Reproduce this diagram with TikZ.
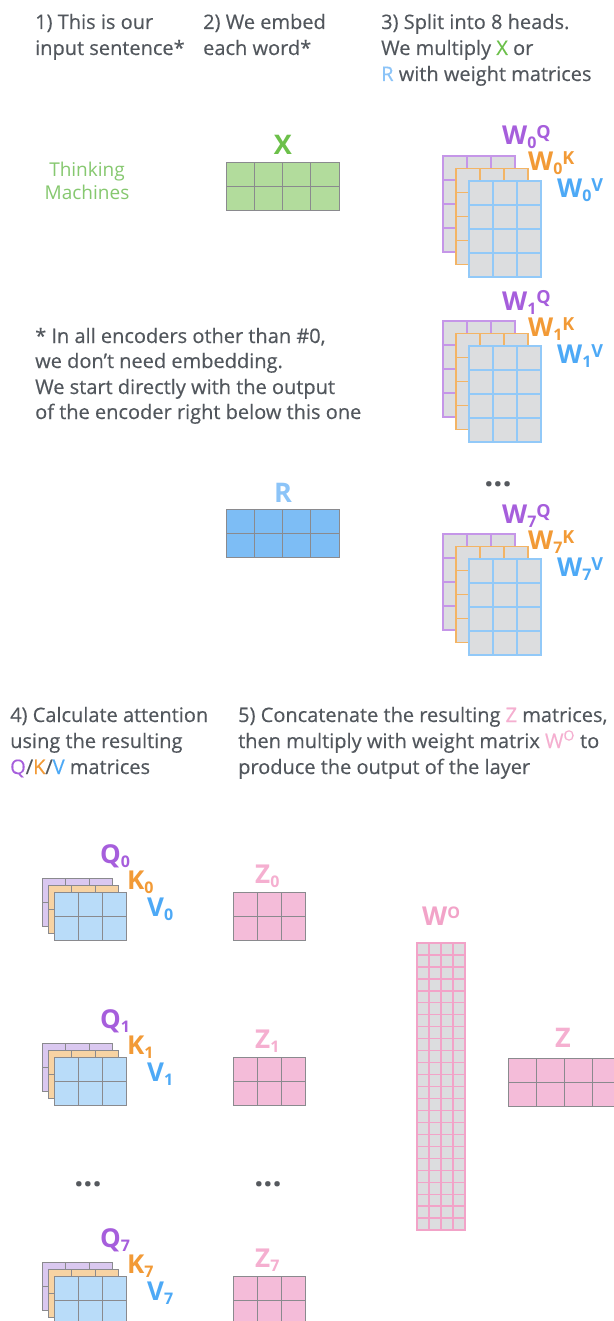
\documentclass[tikz,border=0pt]{standalone}
\usepackage{fontspec}
\setmainfont{Open Sans}
\newfontfamily\bodyfont{Open Sans}[FakeBold=0.35]
\definecolor{txtgray}{HTML}{52575D}
\definecolor{dotgray}{HTML}{55595E}
\definecolor{xgreen}{HTML}{6CC04A}
\definecolor{tmgreen}{HTML}{86C86F}
\definecolor{xfill}{HTML}{B2DC9C}
\definecolor{rblue}{HTML}{8CC4F8}
\definecolor{rfill}{HTML}{7DBDF5}
\definecolor{qpurple}{HTML}{A65EDC}
\definecolor{kor}{HTML}{F29A36}
\definecolor{vblue}{HTML}{4DA9F6}
\definecolor{pline}{HTML}{C596E8}
\definecolor{oline}{HTML}{F3B465}
\definecolor{bline}{HTML}{92C9F8}
\definecolor{wgray}{HTML}{DCDDDF}
\definecolor{pfill}{HTML}{DAC8F0}
\definecolor{ofill}{HTML}{F7D3A3}
\definecolor{bfill}{HTML}{B9DCF9}
\definecolor{zpink}{HTML}{F5AFD0}
\definecolor{zfill}{HTML}{F4BCD9}
\definecolor{wopink}{HTML}{F2A3C8}
\definecolor{gridgray}{HTML}{8A8A8E}
\newcommand{\cellgrid}[8]{%
  \fill[#7] (#1,#2) rectangle ++({#3*#5},{#4*#6});
  \foreach \ci in {0,...,#3}{\draw[#8] ({#1+\ci*#5},#2) -- ++(0,{#4*#6});}
  \foreach \ri in {0,...,#4}{\draw[#8] (#1,{#2+\ri*#6}) -- ++({#3*#5},0);}
}
\newcommand{\lbl}[3]{{\fontsize{26}{26}\selectfont #1}{\fontsize{16}{16}\selectfont\raisebox{-4pt}{#2}}{\fontsize{18}{18}\selectfont\raisebox{6pt}{#3}}}
\newcommand{\wstack}[1]{%
  \cellgrid{443}{#1}{3}{4}{24}{24}{wgray}{pline,line width=1.8pt}
  \cellgrid{456}{#1+12.5}{3}{4}{24}{24}{wgray}{oline,line width=1.8pt}
  \cellgrid{469}{#1+25}{3}{4}{24}{24}{wgray}{bline,line width=2pt}
}
\newcommand{\qkvstack}[1]{%
  \cellgrid{42}{#1-14}{3}{2}{23.5}{24}{pfill}{gridgray,line width=1pt}
  \cellgrid{48}{#1-7}{3}{2}{23.5}{24}{ofill}{gridgray,line width=1pt}
  \cellgrid{54}{#1}{3}{2}{24}{24}{bfill}{gridgray,line width=1pt}
  \cellgrid{233}{#1}{3}{2}{24}{24}{zfill}{gridgray,line width=1pt}
}
\begin{document}
\begin{tikzpicture}[x=1pt,y=-1pt,line cap=rect,
  txt/.style={anchor=base west,inner sep=0pt,text=txtgray,font=\bodyfont\fontsize{20}{26}\selectfont},
  lab/.style={anchor=base west,inner sep=0pt,font=\bfseries},
  big/.style={anchor=base,inner sep=0pt,font=\bfseries\fontsize{27}{27}\selectfont},
  dots/.style={anchor=base,inner sep=0pt,text=dotgray,font=\bfseries\fontsize{32}{32}\selectfont}]
\useasboundingbox[fill=white] (0,0) rectangle (613,1321);
% headers
\node[txt] (h1a) at (35,29) {1) This is our};
\node[txt] (h1b) at (35,55) {input sentence*};
\node[txt] (h2a) at (203,29) {2) We embed};
\node[txt] (h2b) at (203,55) {each word*};
\node[txt] (h3a) at (381,29) {3) Split into 8 heads.};
\node[txt] (h3b) at (381,55) {We multiply {\color{xgreen}X} or};
\node[txt] (h3c) at (381,81) {{\color{rblue}R} with weight matrices};
% input
\node[anchor=base,inner sep=0pt,text=tmgreen,font=\fontsize{19}{24}\selectfont] (tm1) at (87,177) {Thinking};
\node[anchor=base,inner sep=0pt,text=tmgreen,font=\fontsize{19}{24}\selectfont] (tm2) at (87,200) {Machines};
\node[big,text=xgreen] (xl) at (283,155) {X};
\cellgrid{226}{163}{4}{2}{28.25}{24}{xfill}{gridgray,line width=1pt}
% weight stacks
\wstack{156}
\node[lab,text=qpurple] (w0q) at (502,145) {\lbl{W}{0}{Q}};
\node[lab,text=kor] (w0k) at (528,171) {\lbl{W}{0}{K}};
\node[lab,text=vblue] (w0v) at (557,198) {\lbl{W}{0}{V}};
\wstack{321}
\node[lab,text=qpurple] (w1q) at (502,310) {\lbl{W}{1}{Q}};
\node[lab,text=kor] (w1k) at (528,336) {\lbl{W}{1}{K}};
\node[lab,text=vblue] (w1v) at (557,363) {\lbl{W}{1}{V}};
\node[dots] (wdots) at (498,486) {...};
\wstack{534}
\node[lab,text=qpurple] (w7q) at (502,523) {\lbl{W}{7}{Q}};
\node[lab,text=kor] (w7k) at (528,549) {\lbl{W}{7}{K}};
\node[lab,text=vblue] (w7v) at (557,576) {\lbl{W}{7}{V}};
% footnote
\node[txt] (f1) at (35,343) {* In all encoders other than \#0,};
\node[txt] (f2) at (35,368) {we don’t need embedding.};
\node[txt] (f3) at (35,394) {We start directly with the output};
\node[txt] (f4) at (35,419) {of the encoder right below this one};
% R
\node[big,text=rblue] (rl) at (283,502) {R};
\cellgrid{226}{509}{4}{2}{28.25}{24}{rfill}{gridgray,line width=1pt}
% section 4/5 headers
\node[txt] (h4a) at (10,722) {4) Calculate attention};
\node[txt] (h4b) at (10,748) {using the resulting};
\node[txt] (h4c) at (10,774) {{\color{qpurple}Q}/{\color{kor}K}/{\color{vblue}V} matrices};
\node[txt] (h5a) at (238,722) {5) Concatenate the resulting {\color{zpink}Z} matrices,};
\node[txt] (h5b) at (238,748) {then multiply with weight matrix {\color{zpink}W\textsuperscript{O}} to};
\node[txt] (h5c) at (238,774) {produce the output of the layer};
% qkv groups
\qkvstack{892}
\node[lab,text=qpurple] (q0) at (100,863) {\lbl{Q}{0}{}};
\node[lab,text=kor] (k0) at (127,889) {\lbl{K}{0}{}};
\node[lab,text=vblue] (v0) at (147,916) {\lbl{V}{0}{}};
\node[lab,text=zpink] (z0) at (255,883) {\lbl{Z}{0}{}};
\qkvstack{1057}
\node[lab,text=qpurple] (q1) at (100,1028) {\lbl{Q}{1}{}};
\node[lab,text=kor] (k1) at (127,1054) {\lbl{K}{1}{}};
\node[lab,text=vblue] (v1) at (147,1081) {\lbl{V}{1}{}};
\node[lab,text=zpink] (z1) at (255,1048) {\lbl{Z}{1}{}};
\node[dots] (ldots) at (88,1186) {...};
\node[dots] (rdots) at (268,1186) {...};
\qkvstack{1276}
\node[lab,text=qpurple] (q7) at (100,1247) {\lbl{Q}{7}{}};
\node[lab,text=kor] (k7) at (127,1273) {\lbl{K}{7}{}};
\node[lab,text=vblue] (v7) at (147,1300) {\lbl{V}{7}{}};
\node[lab,text=zpink] (z7) at (255,1267) {\lbl{Z}{7}{}};
% W^O
\node[lab,text=wopink] (wol) at (422,925) {{\fontsize{26}{26}\selectfont W}{\fontsize{16}{16}\selectfont\raisebox{7pt}{O}}};
\cellgrid{417}{943}{4}{24}{12}{11.96}{wgray}{wopink,line width=1.3pt}
% Z
\node[big,text=zpink] (zl) at (563,1047) {Z};
\cellgrid{508}{1058}{4}{2}{28.3}{24}{zfill}{gridgray,line width=1pt}
\end{tikzpicture}
\end{document}
